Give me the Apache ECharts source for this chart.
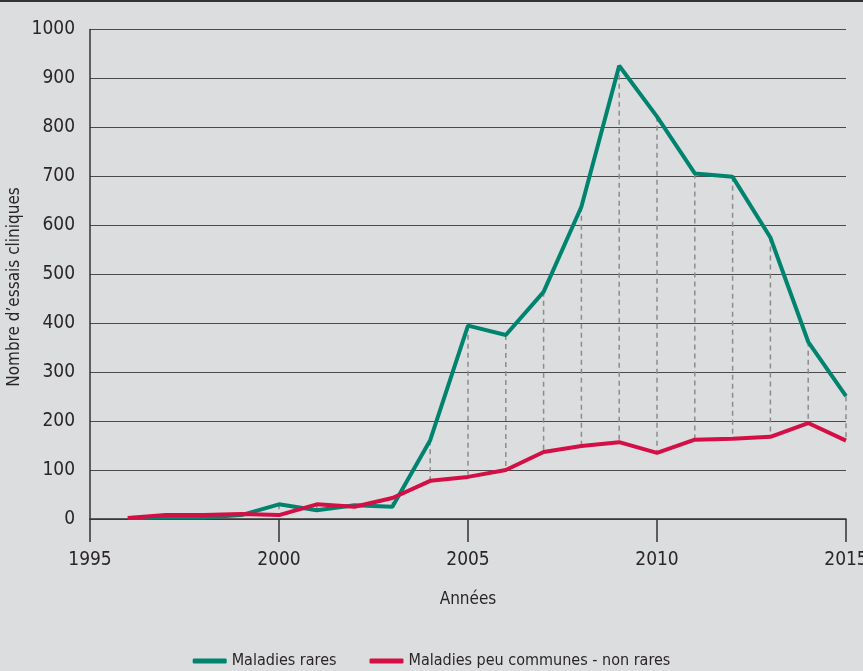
<!DOCTYPE html>
<html>
<head>
<meta charset="utf-8">
<script src="https://cdn.jsdelivr.net/npm/echarts@6/dist/echarts.min.js"></script>
<style>
    html, body { margin: 0; padding: 0; background: #dcdddf; }
    #chart { width: 863px; height: 671px; }
</style>
</head>
<body>
<div id="chart"></div>
<script>
    // années et valeurs
    var years = [1996, 1997, 1998, 1999, 2000, 2001, 2002, 2003, 2004, 2005,
        2006, 2007, 2008, 2009, 2010, 2011, 2012, 2013, 2014, 2015];
    var rares = [2, 3, 3, 8, 30, 18, 28, 25, 161, 395,
        376, 464, 638, 926, 822, 706, 699, 575, 362, 251];
    var nonRares = [2, 8, 8, 10, 8, 30, 25, 43, 78, 86,
        100, 137, 149, 157, 135, 162, 164, 168, 196, 160];
    var seriesNames = ['Maladies rares', 'Maladies peu communes - non rares'];

    var font = '"Liberation Sans Narrow", "DejaVu Sans Condensed", sans-serif';
    var txt = '#2a2627';

    function pairs(vals) {
        return years.map(function(y, i) { return [y, vals[i]]; });
    }

    // traits pointillés entre les deux courbes
    var gaps = years.map(function(y, i) { return [y, rares[i], nonRares[i]]; });

    var chart = echarts.init(document.getElementById('chart'));
    chart.setOption({
        backgroundColor: '#dcdddf',
        animation: false,
        textStyle: { fontFamily: font, color: txt },
        grid: { left: 90, right: 17, top: 29.5, bottom: 152, outerBoundsMode: 'none', containLabel: false },
        graphic: [{
            type: 'rect',
            shape: { x: 0, y: 0, width: 863, height: 2 },
            style: { fill: '#333' }
        }, {
            type: 'text',
            x: 15, y: 287,
            rotation: Math.PI / 2,
            style: {
                text: 'Nombre d\u2019essais cliniques',
                font: '17px ' + font,
                fill: txt,
                align: 'center',
                verticalAlign: 'middle'
            }
        }],
        legend: {
            data: seriesNames,
            left: 'center',
            top: 653,
            padding: 0,
            icon: 'roundRect',
            itemWidth: 34,
            itemHeight: 5,
            itemGap: 33,
            textStyle: { fontFamily: font, fontSize: 16, color: txt }
        },
        xAxis: {
            type: 'value',
            min: 1995,
            max: 2015,
            interval: 5,
            name: 'Années',
            nameLocation: 'middle',
            nameGap: 72,
            nameTextStyle: { fontFamily: font, fontSize: 17, color: txt },
            axisLine: { show: true, lineStyle: { color: '#333', width: 1.5 } },
            axisTick: { show: true, length: 23, lineStyle: { color: '#333', width: 1.5 } },
            axisLabel: {
                margin: 32, fontSize: 19, fontFamily: font, color: txt,
                formatter: function(v) { return String(v); }
            },
            splitLine: { show: false }
        },
        yAxis: {
            type: 'value',
            min: 0,
            max: 1000,
            interval: 100,
            axisLine: { show: true, lineStyle: { color: '#333', width: 1.5 } },
            axisTick: { show: false },
            axisLabel: {
                margin: 15, fontSize: 19, fontFamily: font, color: txt,
                formatter: function(v) { return String(v); }
            },
            splitLine: { show: true, lineStyle: { color: '#4a4a4a', width: 1 } }
        },
        series: [{
            type: 'custom',
            data: gaps,
            encode: { x: 0, y: [1, 2] },
            z: 1,
            silent: true,
            renderItem: function(params, api) {
                var p1 = api.coord([api.value(0), api.value(1)]);
                var p2 = api.coord([api.value(0), api.value(2)]);
                return {
                    type: 'line',
                    shape: { x1: p1[0], y1: p1[1], x2: p2[0], y2: p2[1] },
                    style: { stroke: '#8c8c8c', lineWidth: 1.5, lineDash: [5, 4] }
                };
            }
        }, {
            name: seriesNames[0],
            type: 'line',
            data: pairs(rares),
            symbol: 'none',
            z: 3,
            color: '#00846f',
            lineStyle: { color: '#00846f', width: 4 }
        }, {
            name: seriesNames[1],
            type: 'line',
            data: pairs(nonRares),
            symbol: 'none',
            z: 4,
            color: '#d40f45',
            lineStyle: { color: '#d40f45', width: 4 }
        }]
    });
</script>
</body>
</html>
